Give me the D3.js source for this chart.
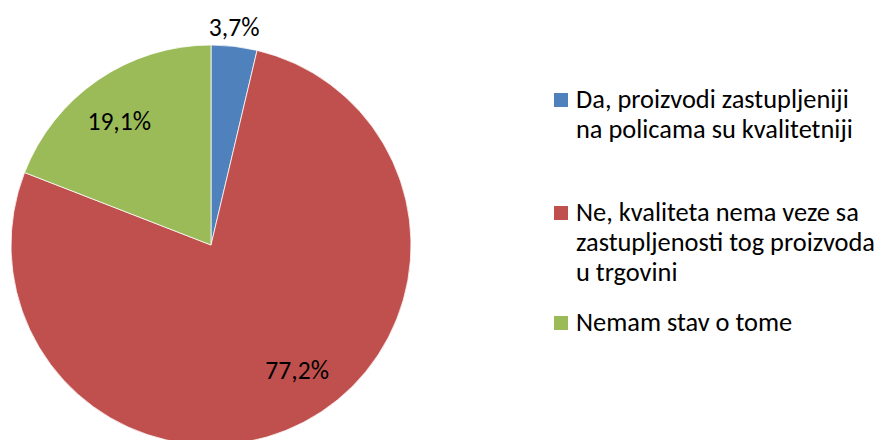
<!DOCTYPE html>
<html>
<head>
<meta charset="utf-8">
<script src="https://cdn.jsdelivr.net/npm/d3@7"></script>
<style>
  html, body { margin: 0; padding: 0; background: #fff; }
  svg { display: block; font-family: Carlito, Calibri, Lato, sans-serif; }
</style>
</head>
<body>
<svg id="chart" width="882" height="440"></svg>
<script>
// answer categories, share of respondents (%)
var categories = [
    'Da, proizvodi zastupljeniji na policama su kvalitetniji',
    'Ne, kvaliteta nema veze sa zastupljenosti tog proizvoda u trgovini',
    'Nemam stav o tome'
];
var values = [3.7, 77.2, 19.1];
var valueLabels = ['3,7%', '77,2%', '19,1%'];
// legend lines as wrapped in the original
var legendLines = [
    ['Da, proizvodi zastupljeniji', 'na policama su kvalitetniji'],
    ['Ne, kvaliteta nema veze sa', 'zastupljenosti tog proizvoda', 'u trgovini'],
    ['Nemam stav o tome']
];
var colors = ['#4f81bd', '#c0504d', '#9bbb59'];

(function () {
    var svg = d3.select('#chart');
    var cx = 211, cy = 245, R = 200;
    var LABEL_FONT = 25.6;
    var LEGEND_FONT = 26.4;

    // label radius and angular nudge (deg) per slice, mimicking Excel best-fit
    var labelR = [219, 152, 154];
    var labelNudge = [-0.6, -6.8, -2.2];

    var pie = d3.pie().sort(null).value(function (d) { return d; });
    var arcs = pie(values);
    var arc = d3.arc().innerRadius(0).outerRadius(R);

    var g = svg.append('g').attr('transform', 'translate(' + cx + ',' + cy + ')');
    g.selectAll('path.slice').data(arcs).enter().append('path')
        .attr('class', 'slice')
        .attr('d', arc)
        .attr('fill', function (d, i) { return colors[i]; })
        .attr('stroke', '#fff')
        .attr('stroke-width', 0.75);

    g.selectAll('text.lbl').data(arcs).enter().append('text')
        .attr('class', 'lbl')
        .attr('x', function (d, i) {
            var a = (d.startAngle + d.endAngle) / 2 + labelNudge[i] * Math.PI / 180;
            return labelR[i] * Math.sin(a);
        })
        .attr('y', function (d, i) {
            var a = (d.startAngle + d.endAngle) / 2 + labelNudge[i] * Math.PI / 180;
            return -labelR[i] * Math.cos(a);
        })
        .attr('dy', '0.35em')
        .attr('text-anchor', 'middle')
        .attr('font-size', LABEL_FONT)
        .attr('fill', '#000')
        .text(function (d, i) { return valueLabels[i]; });

    // legend
    var legX = 554, sq = 14, textX = 576, lineH = 30;
    var firstBase = [108, 221, 331];
    var leg = svg.append('g');
    legendLines.forEach(function (lines, i) {
        var gi = leg.append('g');
        gi.append('rect')
            .attr('x', legX).attr('y', firstBase[i] - 15)
            .attr('width', sq).attr('height', sq)
            .attr('fill', colors[i]);
        var t = gi.append('text')
            .attr('font-size', LEGEND_FONT)
            .attr('fill', '#000');
        lines.forEach(function (ln, j) {
            t.append('tspan').attr('x', textX).attr('y', firstBase[i] + j * lineH).text(ln);
        });
    });
})();
</script>
</body>
</html>
